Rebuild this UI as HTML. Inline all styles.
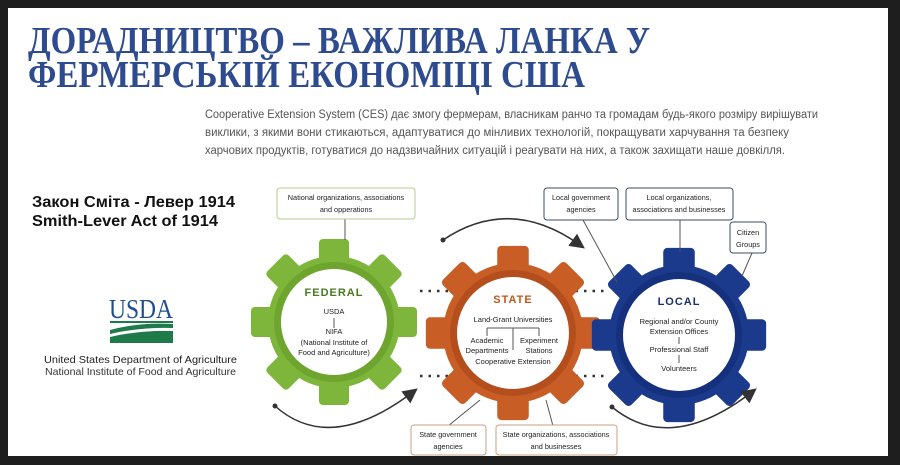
<!DOCTYPE html>
<html><head><meta charset="utf-8"><style>
html,body{margin:0;padding:0;background:#1e1e1e;}
svg{display:block}
</style></head><body>
<svg width="900" height="465" viewBox="0 0 900 465" xmlns="http://www.w3.org/2000/svg" font-family="Liberation Sans, sans-serif">
<defs>
<g id="teeth">
<rect x="-15" y="-83" width="30" height="26" rx="4"/>
<rect x="-15" y="-83" width="30" height="26" rx="4" transform="rotate(45)"/>
<rect x="-15" y="-83" width="30" height="26" rx="4" transform="rotate(90)"/>
<rect x="-15" y="-83" width="30" height="26" rx="4" transform="rotate(135)"/>
<rect x="-15" y="-83" width="30" height="26" rx="4" transform="rotate(180)"/>
<rect x="-15" y="-83" width="30" height="26" rx="4" transform="rotate(225)"/>
<rect x="-15" y="-83" width="30" height="26" rx="4" transform="rotate(270)"/>
<rect x="-15" y="-83" width="30" height="26" rx="4" transform="rotate(315)"/>
</g>
<marker id="ah" markerWidth="10" markerHeight="10" refX="6" refY="5" orient="auto"><path d="M0,0 L10,5 L0,10 z" fill="#333"/></marker>
</defs>
<rect x="0" y="0" width="900" height="465" fill="#1e1e1e"/>
<rect x="8" y="8" width="880" height="448" fill="#fff"/>
<text x="28" y="53" font-family="Liberation Serif, serif" font-weight="bold" font-size="38" fill="#2d4b8e" textLength="622" lengthAdjust="spacingAndGlyphs">ДОРАДНИЦТВО – ВАЖЛИВА ЛАНКА У</text>
<text x="28" y="87" font-family="Liberation Serif, serif" font-weight="bold" font-size="38" fill="#2d4b8e" textLength="557" lengthAdjust="spacingAndGlyphs">ФЕРМЕРСЬКІЙ ЕКОНОМІЦІ США</text>
<g font-size="11.5" fill="#555">
<text x="205" y="118" textLength="613" lengthAdjust="spacingAndGlyphs">Cooperative Extension System (CES) дає змогу фермерам, власникам ранчо та громадам будь-якого розміру вирішувати</text>
<text x="205" y="136" textLength="584" lengthAdjust="spacingAndGlyphs">виклики, з якими вони стикаються, адаптуватися до мінливих технологій, покращувати харчування та безпеку</text>
<text x="205" y="154" textLength="580" lengthAdjust="spacingAndGlyphs">харчових продуктів, готуватися до надзвичайних ситуацій і реагувати на них, а також захищати наше довкілля.</text>
</g>
<g font-size="16" font-weight="bold" fill="#111">
<text x="32" y="207" textLength="203" lengthAdjust="spacingAndGlyphs">Закон Сміта - Левер 1914</text>
<text x="32" y="226" textLength="186" lengthAdjust="spacingAndGlyphs">Smith-Lever Act of 1914</text>
</g>
<text x="109" y="318" font-family="Liberation Serif, serif" font-size="27" fill="#1f4f8f" textLength="64" lengthAdjust="spacingAndGlyphs">USDA</text>
<rect x="110" y="321" width="63" height="2" fill="#1f7a4a"/>
<path d="M110,330 Q140,322 173,324 L173,328 Q140,327 110,334z" fill="#1f7a4a"/>
<path d="M110,337 Q140,330 173,331 L173,343 L110,343z" fill="#1f7a4a"/>
<text x="44" y="363" font-size="10.5" fill="#222" textLength="193" lengthAdjust="spacingAndGlyphs">United States Department of Agriculture</text>
<text x="45" y="375" font-size="10.5" fill="#333" textLength="191" lengthAdjust="spacingAndGlyphs">National Institute of Food and Agriculture</text>

<g stroke="#333" stroke-width="2.5" stroke-dasharray="2.5 6">
<line x1="420" y1="291" x2="455" y2="291"/><line x1="567" y1="291" x2="605" y2="291"/>
<line x1="420" y1="376" x2="455" y2="376"/><line x1="567" y1="376" x2="605" y2="376"/>
</g>
<g transform="translate(334,322)">
<g fill="#7db63a"><use href="#teeth"/><circle r="66"/></g>
<circle r="60" fill="#6ea52f"/><circle r="53" fill="#fff"/>
<text y="-26" text-anchor="middle" font-weight="bold" font-size="11" fill="#4a7a1e" letter-spacing="1">FEDERAL</text>
<g font-size="7.5" fill="#222" text-anchor="middle"><text y="-8">USDA</text><line x1="0" y1="-4" x2="0" y2="6" stroke="#555"/><text y="12">NIFA</text><text y="23">(National Institute of</text><text y="33">Food and Agriculture)</text></g>
</g>
<g transform="translate(513,333)">
<g fill="#c85d25"><use href="#teeth" transform="scale(1.05)"/><circle r="70"/></g>
<circle r="63" fill="#b44f1d"/><circle r="56" fill="#fff"/>
<text y="-30" text-anchor="middle" font-weight="bold" font-size="11" fill="#c2561f" letter-spacing="1">STATE</text>
<g font-size="7.5" fill="#222" text-anchor="middle"><text y="-11">Land-Grant Universities</text>
<path d="M-26,-5 V3 M26,-5 V3 M-26,-5 H26 M0,-5 V17" stroke="#555" fill="none"/>
<text x="-26" y="10">Academic</text><text x="-26" y="20">Departments</text><text x="26" y="10">Experiment</text><text x="26" y="20">Stations</text><text y="31">Cooperative Extension</text></g>
</g>
<g transform="translate(679,335)">
<g fill="#1b3a8c"><use href="#teeth" transform="scale(1.05)"/><circle r="70"/></g>
<circle r="63" fill="#15317d"/><circle r="56" fill="#fff"/>
<text y="-30" text-anchor="middle" font-weight="bold" font-size="11" fill="#1b2f6a" letter-spacing="1">LOCAL</text>
<g font-size="7.5" fill="#222" text-anchor="middle"><text y="-11">Regional and/or County</text><text y="-1">Extension Offices</text><line x1="0" y1="2" x2="0" y2="9" stroke="#555"/><text y="17">Professional Staff</text><line x1="0" y1="20" x2="0" y2="28" stroke="#555"/><text y="36">Volunteers</text></g>
</g>
<g fill="none" stroke="#333" stroke-width="1.5" marker-end="url(#ah)">
<path d="M443,240 Q510,195 580,245"/>
<path d="M275,406 Q330,455 413,392"/>
<path d="M612,407 Q670,455 752,392"/>
</g>
<g fill="#333"><circle cx="443" cy="240" r="2.5"/><circle cx="275" cy="406" r="2.5"/><circle cx="612" cy="407" r="2.5"/></g>
<g stroke="#555" stroke-width="1">
<line x1="345" y1="219" x2="345" y2="240"/>
<line x1="583" y1="220" x2="617" y2="282"/>
<line x1="680" y1="220" x2="680" y2="252"/>
<line x1="752" y1="253" x2="742" y2="276"/>
<line x1="448" y1="426" x2="480" y2="400"/>
<line x1="553" y1="426" x2="546" y2="400"/>
</g>
<g fill="#fff" stroke-width="1">
<rect x="277" y="188" width="138" height="31" rx="3" stroke="#b9cc8c"/>
<rect x="544" y="188" width="74" height="32" rx="3" stroke="#3b4a66"/>
<rect x="626" y="188" width="107" height="32" rx="3" stroke="#3b4a66"/>
<rect x="730" y="222" width="36" height="31" rx="3" stroke="#3b4a66"/>
<rect x="411" y="425" width="75" height="30" rx="3" stroke="#c9a080"/>
<rect x="496" y="425" width="121" height="30" rx="3" stroke="#c9a080"/>
</g>
<g font-size="7.3" fill="#222" text-anchor="middle">
<text x="346" y="200">National organizations, associations</text><text x="346" y="212">and opperations</text>
<text x="581" y="200">Local government</text><text x="581" y="212">agencies</text>
<text x="679" y="200">Local organizations,</text><text x="679" y="212">associations and businesses</text>
<text x="748" y="235">Citizen</text><text x="748" y="247">Groups</text>
<text x="448" y="437">State government</text><text x="448" y="449">agencies</text>
<text x="556" y="437">State organizations, associations</text><text x="556" y="449">and businesses</text>
</g>
</svg>
</body></html>
